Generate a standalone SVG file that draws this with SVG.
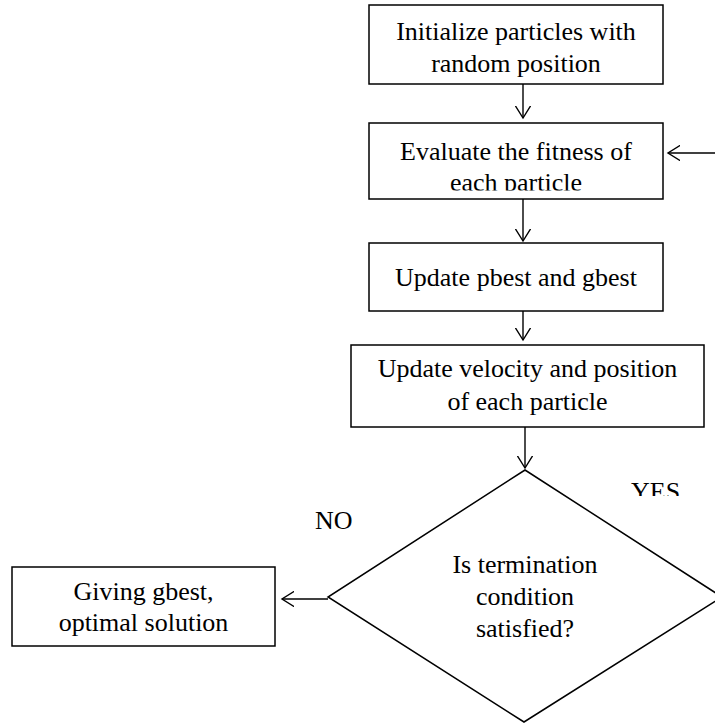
<svg xmlns="http://www.w3.org/2000/svg" width="715" height="723" viewBox="0 0 715 723">
<style>
.box{fill:#fff;stroke:#000;stroke-width:1.5}
.t{font-family:"Liberation Serif","Times New Roman",serif;font-size:26px;fill:#000;text-anchor:middle}
.tl{font-family:"Liberation Serif","Times New Roman",serif;font-size:26px;fill:#000}
.c{fill:none;stroke:#000;stroke-width:1.4}
</style>
<defs>
<marker id="ah" viewBox="-12 -8 14 16" refX="0" refY="0" markerWidth="14" markerHeight="16" markerUnits="userSpaceOnUse" orient="auto">
<path d="M-16,-10 L0,0 L-16,10" fill="none" stroke="#000" stroke-width="1.4"/>
</marker>
<clipPath id="clip2"><rect x="369" y="123" width="294" height="67.5"/></clipPath>
<clipPath id="clipYes"><rect x="600" y="470" width="115" height="26"/></clipPath>
</defs>
<g id="connectors">
<line class="c" x1="523" y1="84" x2="523" y2="118" marker-end="url(#ah)"/>
<line class="c" x1="715" y1="153" x2="668" y2="153" marker-end="url(#ah)"/>
<line class="c" x1="523" y1="199" x2="523" y2="241" marker-end="url(#ah)"/>
<line class="c" x1="523" y1="311" x2="523" y2="340" marker-end="url(#ah)"/>
<line class="c" x1="525" y1="427" x2="525" y2="468" marker-end="url(#ah)"/>
<line class="c" x1="328" y1="599" x2="282" y2="599" marker-end="url(#ah)"/>
</g>
<g id="n1">
<rect class="box" x="369" y="5" width="294" height="79"/>
<text class="t" x="516" y="40">Initialize particles with</text>
<text class="t" x="516" y="72">random position</text>
</g>
<g id="n2">
<rect class="box" x="369" y="123" width="294" height="76"/>
<g clip-path="url(#clip2)">
<text class="t" x="516" y="160">Evaluate the fitness of</text>
<text class="t" x="516" y="191">each particle</text>
</g>
</g>
<g id="n3">
<rect class="box" x="369" y="243" width="294" height="68"/>
<text class="t" x="516" y="286">Update pbest and gbest</text>
</g>
<g id="n4">
<rect class="box" x="351" y="345" width="353" height="82"/>
<text class="t" x="527.5" y="377">Update velocity and position</text>
<text class="t" x="527.5" y="410">of each particle</text>
</g>
<g id="n5">
<polygon class="box" points="525,470 722,597 524,722 328,597"/>
<text class="t" x="525" y="573">Is termination</text>
<text class="t" x="525" y="605">condition</text>
<text class="t" x="525" y="637">satisfied?</text>
</g>
<g id="n6">
<rect class="box" x="12" y="567" width="263" height="79"/>
<text class="t" x="143.5" y="600">Giving gbest,</text>
<text class="t" x="143.5" y="631">optimal solution</text>
</g>
<g id="labels">
<text class="tl" x="631" y="500" clip-path="url(#clipYes)">YES</text>
<text class="tl" x="315" y="529">NO</text>
</g>
</svg>
